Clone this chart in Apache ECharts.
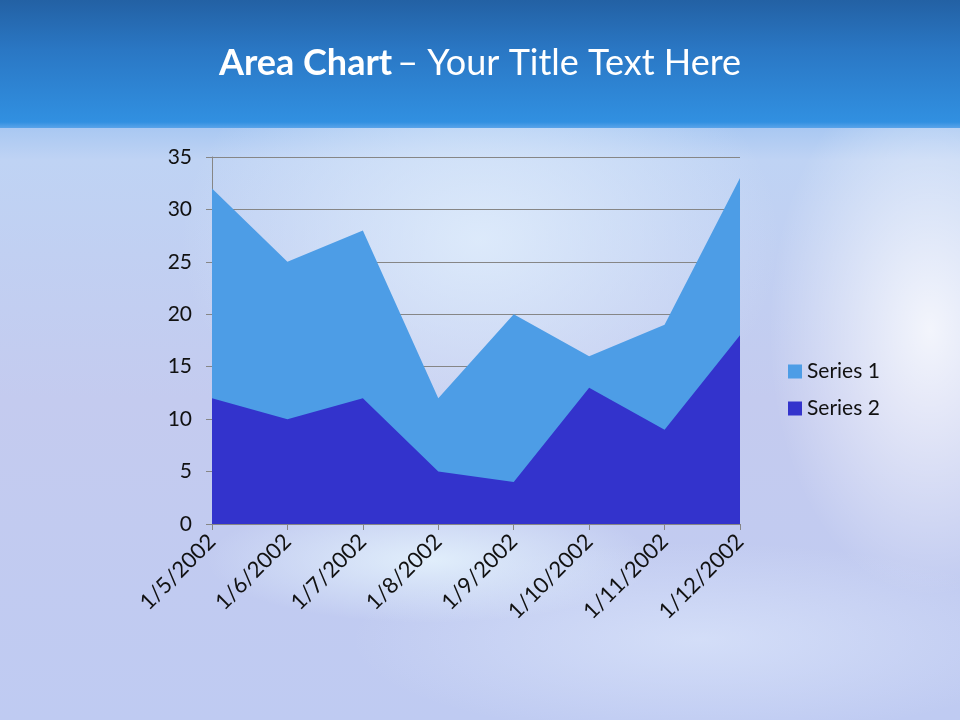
<!DOCTYPE html>
<html>
<head>
<meta charset="utf-8">
<script src="https://cdn.jsdelivr.net/npm/echarts@6/dist/echarts.min.js"></script>
<style>
html,body{margin:0;padding:0;}
#bg{position:absolute;left:0;top:0;width:960px;height:720px;overflow:hidden;
background:
 radial-gradient(ellipse 230px 380px at 930px 330px, rgba(255,255,255,0.8), rgba(255,255,255,0) 70%),
 radial-gradient(ellipse 320px 90px at 430px 560px, rgba(235,250,255,0.75), rgba(255,255,255,0) 70%),
 radial-gradient(ellipse 400px 300px at 480px 240px, rgba(225,238,252,0.85), rgba(255,255,255,0) 75%),
 radial-gradient(ellipse 500px 140px at 700px 640px, rgba(230,240,255,0.5), rgba(255,255,255,0) 70%),
 linear-gradient(to bottom, #a9c8f2 128px, #bfd3f4 160px, #c4cbef 400px, #bfcbf2 720px);
}
#hdr{position:absolute;left:0;top:0;width:960px;height:128px;
background: linear-gradient(to bottom, #2361a4 0px, #2a77c4 50px, #3190e1 122px, #5aa4ea 128px);}
#main{position:absolute;left:0;top:0;width:960px;height:720px;}
</style>
</head>
<body>
<div id="bg"></div>
<div id="hdr"></div>
<div id="main"></div>
<script>
const categories = ['1/5/2002','1/6/2002','1/7/2002','1/8/2002','1/9/2002','1/10/2002','1/11/2002','1/12/2002'];
const series1 = [32, 25, 28, 12, 20, 16, 19, 33];
const series2 = [12, 10, 12, 5, 4, 13, 9, 18];
const yTicks = [0, 5, 10, 15, 20, 25, 30, 35];

const chart = echarts.init(document.getElementById('main'), null, {renderer:'canvas'});
const fontFam = 'Lato, "Open Sans", sans-serif';
chart.setOption({
  backgroundColor: 'transparent',
  animation: false,
  title: {
    text: '{b|Area Chart} {r|– Your Title Text Here}',
    left: 'center',
    top: 40,
    textStyle: {
      rich: {
        b: {fontSize: 36, fontWeight: 'bold', color: '#fff', fontFamily: fontFam},
        r: {fontSize: 36, fontWeight: 'normal', color: '#fff', fontFamily: fontFam}
      }
    }
  },
  legend: {
    orient: 'vertical',
    left: 783,
    top: 356,
    itemWidth: 14,
    itemHeight: 14,
    itemGap: 16,
    icon: 'rect',
    textStyle: {fontSize: 21, color: '#111', fontFamily: fontFam},
    data: ['Series 1', 'Series 2']
  },
  grid: {left: 212, right: 220, top: 157, bottom: 196, containLabel: false},
  xAxis: {
    type: 'category',
    data: categories,
    boundaryGap: false,
    axisLine: {lineStyle: {color: '#868686', width: 1}},
    axisTick: {show: true, alignWithLabel: true, length: 6, lineStyle: {color: '#868686'}},
    axisLabel: {rotate: 45, fontSize: 22, color: '#111', fontFamily: fontFam, margin: 14, interval: 0},
    splitLine: {show: false}
  },
  yAxis: {
    type: 'value',
    min: yTicks[0],
    max: yTicks[yTicks.length - 1],
    interval: 5,
    axisLine: {show: true, lineStyle: {color: '#868686', width: 1}},
    axisTick: {show: true, length: 6, lineStyle: {color: '#868686'}},
    axisLabel: {fontSize: 21, color: '#111', fontFamily: fontFam, margin: 20},
    splitLine: {show: true, lineStyle: {color: '#868686', width: 1}}
  },
  series: [
    {
      name: 'Series 1', type: 'line', data: series1,
      symbol: 'none', lineStyle: {width: 0},
      itemStyle: {color: '#4d9de6'},
      areaStyle: {color: '#4d9de6', opacity: 1},
      z: 2
    },
    {
      name: 'Series 2', type: 'line', data: series2,
      symbol: 'none', lineStyle: {width: 0},
      itemStyle: {color: '#3333cc'},
      areaStyle: {color: '#3333cc', opacity: 1},
      z: 3
    }
  ]
});
</script>
</body>
</html>
